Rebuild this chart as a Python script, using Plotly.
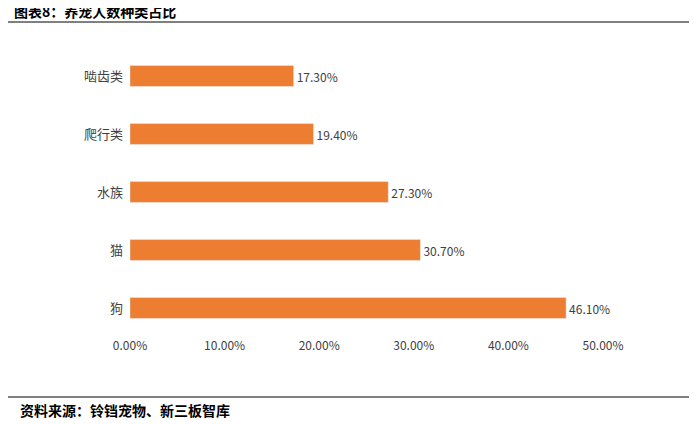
import plotly.graph_objects as go

categories = ["狗", "猫", "水族", "爬行类", "啮齿类"]
values = [0.461, 0.307, 0.273, 0.194, 0.173]
labels = ["46.10%", "30.70%", "27.30%", "19.40%", "17.30%"]
tick_vals = [0, 0.1, 0.2, 0.3, 0.4, 0.5]
tick_text = ["0.00%", "10.00%", "20.00%", "30.00%", "40.00%", "50.00%"]

font = "Noto Sans CJK SC"
fig = go.Figure(go.Bar(
    y=categories, x=values, orientation="h", width=0.36,
    marker_color="#ED7D31", text=labels, textposition="outside",
    textfont=dict(size=12, color="#404040", family=font), cliponaxis=False))

OFF = 8
W, H, L, R, T, B = 689, 416, 122, 94, 39, 87
pw, ph = W - L - R, H - T - B
def px(x): return (x - OFF - L) / pw
def py(y): return (H - B - (y - OFF)) / ph

fig.update_layout(
    width=W, height=H, margin=dict(l=L, r=R, t=T, b=B),
    plot_bgcolor="white", paper_bgcolor="white", showlegend=False,
    font=dict(family=font, color="#404040", size=12),
    xaxis=dict(range=[0, 0.5], tickvals=tick_vals, ticktext=tick_text,
               showgrid=False, zeroline=False, showline=False, ticks=""),
    yaxis=dict(showgrid=False, showline=False, ticks="", ticklabelstandoff=6,
               tickfont=dict(size=13, color="#404040")),
    shapes=[
        dict(type="line", xref="paper", yref="paper", x0=px(8), x1=px(697), y0=py(22), y1=py(22),
             line=dict(color="black", width=1)),
        dict(type="line", xref="paper", yref="paper", x0=px(8), x1=px(697), y0=py(397), y1=py(397),
             line=dict(color="black", width=1)),
    ],
    annotations=[
        dict(text="<b>图表8：养宠人数种类占比</b>", xref="paper", yref="paper", x=px(12), y=py(11),
             xanchor="left", yanchor="middle", showarrow=False, font=dict(size=14, color="black")),
        dict(text="<b>资料来源：铃铛宠物、新三板智库</b>", xref="paper", yref="paper", x=px(18), y=py(410),
             xanchor="left", yanchor="middle", showarrow=False, font=dict(size=14, color="black")),
    ],
)
fig.write_html("out.html")
